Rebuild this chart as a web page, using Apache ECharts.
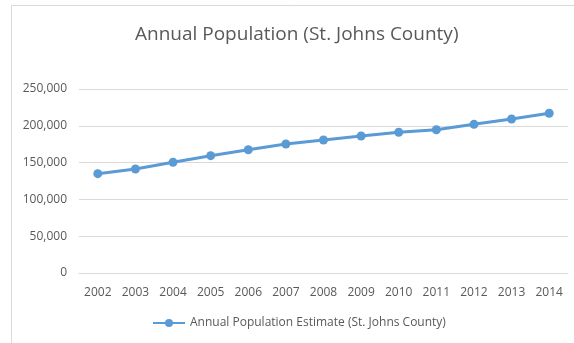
<!DOCTYPE html>
<html>
<head>
<meta charset="utf-8">
<script src="https://cdn.jsdelivr.net/npm/echarts@6/dist/echarts.min.js"></script>
<style>
  html, body { margin: 0; padding: 0; background: #fff; }
  #chart { width: 574px; height: 343px; }
</style>
</head>
<body>
<div id="chart"></div>
<script>
// Annual population estimates for St. Johns County
const years = ['2002','2003','2004','2005','2006','2007','2008','2009','2010','2011','2012','2013','2014'];
const population = [135000, 141300, 150400, 159400, 167500, 175300, 180700, 186100, 191200, 194700, 202000, 209200, 217000];
const seriesName = 'Annual Population Estimate (St. Johns County)';
const titleText = 'Annual Population (St. Johns County)';

const textColor = '#595959';
const lineColor = '#5B9BD5';
const fontFamily = 'Open Sans, Noto Sans, sans-serif';

const chart = echarts.init(document.getElementById('chart'));
chart.setOption({
  animation: false,
  title: {
    text: titleText,
    left: 130,
    top: 20,
    textStyle: { color: textColor, fontSize: 19, fontWeight: 'normal', fontFamily: fontFamily }
  },
  legend: {
    bottom: 9,
    left: 147,
    itemWidth: 32,
    itemHeight: 10,
    textStyle: { color: textColor, fontSize: 12, fontFamily: fontFamily },
    data: [seriesName]
  },
  grid: { left: 79, right: 6, top: 89, bottom: 70 },
  xAxis: {
    type: 'category',
    data: years,
    boundaryGap: true,
    axisLine: { lineStyle: { color: '#d9d9d9' } },
    axisTick: { show: false },
    axisLabel: { color: textColor, fontSize: 12, margin: 14, fontFamily: fontFamily }
  },
  yAxis: {
    type: 'value',
    min: 0,
    max: 250000,
    interval: 50000,
    axisLine: { show: false },
    axisTick: { show: false },
    splitLine: { lineStyle: { color: '#d9d9d9' } },
    axisLabel: {
      color: textColor, fontSize: 12, margin: 12, fontFamily: fontFamily,
      formatter: v => v.toLocaleString('en-US')
    }
  },
  series: [{
    name: seriesName,
    type: 'line',
    data: population,
    symbol: 'circle',
    symbolSize: 9,
    lineStyle: { color: lineColor, width: 3 },
    itemStyle: { color: lineColor }
  }],
  graphic: [
    { type: 'line', shape: { x1: 11.5, y1: 5, x2: 11.5, y2: 343 }, style: { stroke: '#d9d9d9', lineWidth: 1 } },
    { type: 'line', shape: { x1: 11, y1: 5.5, x2: 574, y2: 5.5 }, style: { stroke: '#d9d9d9', lineWidth: 1 } }
  ]
});
</script>
</body>
</html>
